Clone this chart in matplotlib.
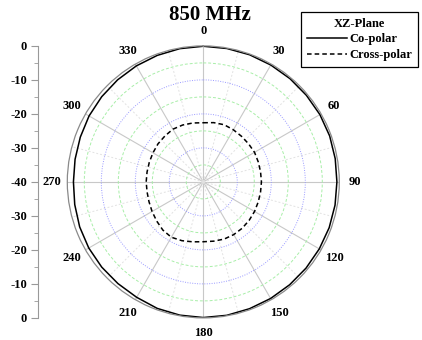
import numpy as np
import matplotlib
matplotlib.use("Agg")
import matplotlib.pyplot as plt

plt.rcParams['font.family'] = ['Liberation Serif', 'DejaVu Serif']
plt.rcParams['font.weight'] = 'bold'

# measured pattern, XZ-plane at 850 MHz (dB), every 10 degrees
angles = np.arange(0, 360, 10)
co_polar = [-0.1, -0.15, -0.2, -0.3, -0.35, -0.4, -0.4, -0.45, -0.6, -0.7, -0.65, -0.6,
            -0.6, -0.55, -0.5, -0.4, -0.3, -0.15, -0.1, -0.2, -0.4, -0.8, -0.95, -1.0,
            -1.1, -1.3, -1.6, -1.8, -1.7, -1.5, -1.2, -1.0, -0.8, -0.6, -0.4, -0.2]
cross_polar = [-22.6, -22.3, -22.1, -22.3, -22.5, -22.6, -22.6, -22.8, -22.9, -22.9, -22.9, -22.8,
               -22.6, -22.4, -22.2, -22.1, -22.1, -22.3, -22.4, -22.1, -21.6, -21.2, -21.5, -22.1,
               -22.6, -23.0, -23.2, -23.2, -23.2, -23.1, -22.9, -22.6, -22.4, -22.1, -22.2, -22.4]

db_min = -40
ring_db = [-35, -30, -25, -20, -15, -10, -5]
side_ticks = [0, -10, -20, -30, -40, -30, -20, -10, 0]
angle_labels = [str(a) for a in range(0, 360, 30)]


def closed(vals):
    return np.append(vals, vals[0])


fig = plt.figure(figsize=(4.22, 3.40), dpi=100)
ax = fig.add_axes([0.1595, 0.065, 0.6445, 0.8], projection='polar')
ax.set_theta_zero_location('N')
ax.set_theta_direction(-1)
ax.set_ylim(0, -db_min)

th = np.deg2rad(closed(angles))
ax.plot(th, closed(co_polar) - db_min, color='black', lw=1.1, label='Co-polar')
ax.plot(th, closed(cross_polar) - db_min, color='black', lw=1.1,
        linestyle=(0, (3, 2)), label='Cross-polar')

# rings: green dashed on odd 5 dB steps, blue dotted on 10 dB steps
ax.set_yticks([d - db_min for d in ring_db])
ax.set_yticklabels([])
ax.tick_params(axis='y', length=0)
ax.set_xticks(np.deg2rad(np.arange(0, 360, 30)))
ax.set_xticklabels(angle_labels, fontsize=9, fontweight='bold')
ax.set_xticks(np.deg2rad(np.arange(15, 360, 30)), minor=True)
ax.tick_params(axis='x', pad=0.5)
ax.grid(True, which='major', axis='x', color='#c8c8c8', lw=0.8, linestyle='-')
ax.grid(True, which='minor', axis='x', color='#e2e2e2', lw=0.7, linestyle=(0, (2, 2)))
ax.grid(True, which='major', axis='y')
for d, gl in zip(ring_db, ax.yaxis.get_gridlines()):
    if d % 10 == 0:
        gl.set_color('#9a9aff')
        gl.set_linestyle((0, (1, 1.5)))
    else:
        gl.set_color('#a8eea8')
        gl.set_linestyle((0, (3, 2)))
    gl.set_linewidth(0.7)
ax.spines['polar'].set_color('#8a8a8a')
ax.spines['polar'].set_linewidth(0.9)

# linear dB scale down the left side
sx = fig.add_axes([0.09, 0.065, 0.0001, 0.8])
sx.set_ylim(0, 80)
sx.set_yticks(np.arange(0, 81, 10))
sx.set_yticklabels([str(v) for v in side_ticks[::-1]], fontsize=9, fontweight='bold')
sx.set_yticks(np.arange(5, 80, 10), minor=True)
sx.tick_params(axis='y', which='major', length=5, color='#999999', pad=3)
sx.tick_params(axis='y', which='minor', length=3, color='#999999')
sx.set_xticks([])
for s in ['top', 'right', 'bottom']:
    sx.spines[s].set_visible(False)
sx.spines['left'].set_color('#999999')
sx.patch.set_visible(False)

fig.text(0.497, 0.957, '850 MHz', ha='center', va='center', fontsize=15, fontweight='bold')

leg = ax.legend(loc='upper right', bbox_to_anchor=(0.99, 0.965), bbox_transform=fig.transFigure,
                title='XZ-Plane', fontsize=9, title_fontproperties={'weight': 'bold', 'size': 9},
                fancybox=False, edgecolor='black', framealpha=1, handlelength=3.2,
                handletextpad=0.2, borderpad=0.45, labelspacing=0.3, borderaxespad=0)
leg.get_frame().set_linewidth(0.9)

fig.savefig('out.png', dpi=100)
